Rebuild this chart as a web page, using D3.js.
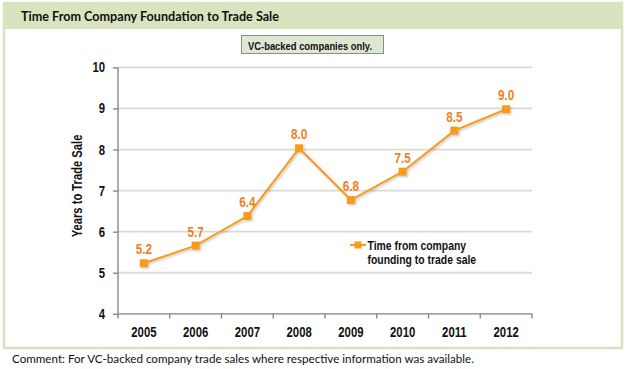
<!DOCTYPE html>
<html><head><meta charset="utf-8">
<script src="https://cdn.jsdelivr.net/npm/d3@7"></script>
<style>
html,body{margin:0;padding:0;background:#fff;}
svg text{font-family:"Liberation Sans",Arial,sans-serif;font-weight:bold;}
</style></head>
<body><svg id="c" width="626" height="369"></svg>
<script>
const years = ["2005","2006","2007","2008","2009","2010","2011","2012"];
const values = [5.23, 5.66, 6.38, 8.03, 6.77, 7.46, 8.46, 8.98];
const yTicks = [4,5,6,7,8,9,10];
const title = "Time From Company Foundation to Trade Sale";
const note = "VC-backed companies only.";
const yTitle = "Years to Trade Sale";
const legendLines = ["Time from company","founding to trade sale"];
const comment = "Comment: For VC-backed company trade sales where respective information was available.";

const svg = d3.select("#c");
const green = "#d8e4bf";
const narrow = k => sel => sel.each(function(){
  const w = this.getComputedTextLength();
  d3.select(this).attr("textLength", w*k).attr("lengthAdjust","spacingAndGlyphs");
});
// frame
svg.append("rect").attr("x",4).attr("y",3).attr("width",618).attr("height",345)
  .attr("fill","#fff").attr("stroke",green).attr("stroke-width",2.5);
svg.append("rect").attr("x",3).attr("y",2.5).attr("width",620).attr("height",26.5).attr("fill",green);
svg.append("text").attr("x",21).attr("y",21).text(title)
  .attr("textLength",258).attr("lengthAdjust","spacingAndGlyphs")
  .style("font-family","Lato,'Open Sans',sans-serif").style("font-size","12.5px").attr("fill","#111");

// note box
svg.append("rect").attr("x",241.5).attr("y",35.5).attr("width",142).attr("height",18)
  .attr("fill","#dde8d3").attr("stroke","#8c8c8c").attr("stroke-width",1);
svg.append("text").attr("x",310).attr("y",49.5).attr("text-anchor","middle")
  .attr("textLength",124).attr("lengthAdjust","spacingAndGlyphs")
  .style("font-size","11px").attr("fill","#111").text(note);

const x = d3.scaleBand().domain(years).range([118,532]);
const y = d3.scaleLinear().domain([4,10]).range([313.8,67.4]);

// gridlines
svg.append("g").selectAll("line").data(yTicks.filter(d=>d>4)).join("line")
  .attr("x1",118).attr("x2",532).attr("y1",d=>y(d)).attr("y2",d=>y(d))
  .attr("stroke","#d9d9d9").attr("stroke-width",1.8);

// axes
const ya = svg.append("g").attr("transform","translate(118,0)")
  .call(d3.axisLeft(y).tickValues(yTicks).tickSize(5).tickPadding(8).tickFormat(d3.format("d")));
const xa = svg.append("g").attr("transform","translate(0,313.8)")
  .call(d3.axisBottom(x).tickSize(0).tickPadding(13.3));
[ya,xa].forEach(a=>{
  a.selectAll(".tick line").attr("stroke","#808080").attr("stroke-width",1.3);
  a.selectAll(".domain").attr("stroke","#808080").attr("stroke-width",1.3);
  a.selectAll("text").style("font-size","14px").attr("fill","#111")
   .style("font-family","'Liberation Sans',Arial,sans-serif").style("font-weight","bold").call(narrow(0.81));
});
xa.select(".domain").attr("d","M118,0H532");
ya.select(".domain").attr("d",`M0,${y(10)}V${y(4)}`);
// x ticks at band boundaries
svg.append("g").selectAll("line").data(d3.range(years.length+1)).join("line")
  .attr("x1",i=>118+i*x.step()).attr("x2",i=>118+i*x.step())
  .attr("y1",313.8).attr("y2",318.5).attr("stroke","#808080").attr("stroke-width",1.3);

// y title
svg.append("text").attr("transform","translate(81.5,186) rotate(-90)").attr("text-anchor","middle")
  .style("font-size","14px").attr("fill","#111").text(yTitle).call(narrow(0.8));

// shadow filter
const defs = svg.append("defs");
const f = defs.append("filter").attr("id","sh").attr("x","-10%").attr("y","-10%").attr("width","130%").attr("height","130%");
f.append("feDropShadow").attr("dx",1.2).attr("dy",1.2).attr("stdDeviation",0.8).attr("flood-color","#000").attr("flood-opacity",0.25);

const orange = "#f89a1c";
const cx = d => x(d)+x.bandwidth()/2;
const g = svg.append("g").attr("filter","url(#sh)");
g.append("path").datum(values)
  .attr("d", d3.line().x((d,i)=>cx(years[i])).y(d=>y(d)))
  .attr("fill","none").attr("stroke",orange).attr("stroke-width",2);
g.selectAll("rect").data(values).join("rect")
  .attr("x",(d,i)=>cx(years[i])-4).attr("y",d=>y(d)-4).attr("width",8).attr("height",8)
  .attr("fill",orange);

svg.append("g").selectAll("text").data(values).join("text")
  .attr("x",(d,i)=>cx(years[i])).attr("y",d=>y(d)-9).attr("text-anchor","middle")
  .style("font-size","14px").attr("fill","#ef7f1f").text(d=>d3.format(".1f")(d)).call(narrow(0.84));

// legend
svg.append("line").attr("x1",350).attr("x2",366).attr("y1",245).attr("y2",245)
  .attr("stroke",orange).attr("stroke-width",2);
svg.append("rect").attr("x",354.5).attr("y",241.5).attr("width",7).attr("height",7).attr("fill",orange);
svg.append("g").selectAll("text").data(legendLines).join("text")
  .attr("x",367.5).attr("y",(d,i)=>249.8+i*14.3)
  .style("font-size","13px").attr("fill","#111").text(d=>d).call(narrow(0.8));

svg.append("text").attr("x",12).attr("y",362.5).text(comment)
  .attr("textLength",462).attr("lengthAdjust","spacingAndGlyphs")
  .style("font-family","Lato,'Open Sans',sans-serif").style("font-weight","normal").style("font-size","11.3px").attr("fill","#111");
</script></body></html>
